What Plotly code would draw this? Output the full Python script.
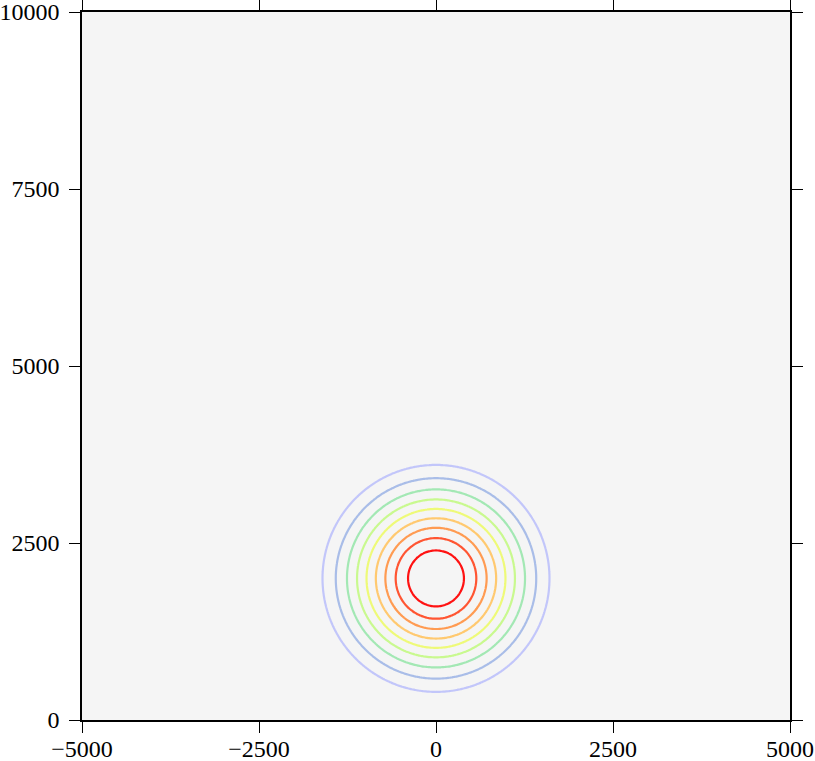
import numpy as np
import plotly.graph_objects as go

# Field parameters (single Gaussian bump)
center_x = 0.0
center_y = 2000.0
sigma = 917.0
amplitude = 1.152

# Contour levels
level_start = 0.25
level_end = 1.05
level_step = 0.1

# Line colours, outermost (lowest level) to innermost (highest)
line_colors = ["#c2c6fa", "#a9bde8", "#a3e8b4", "#c9f98f", "#eefa78",
               "#ffc970", "#ff9b52", "#ff5532", "#ff1212"]

x_ticks = [-5000, -2500, 0, 2500, 5000]
x_labels = ["\u22125000", "\u22122500", "0", "2500", "5000"]
y_ticks = [0, 2500, 5000, 7500, 10000]
y_labels = ["0", "2500", "5000", "7500", "10000"]

xs = np.linspace(-5000, 5000, 401)
ys = np.linspace(0, 10000, 401)
X, Y = np.meshgrid(xs, ys)
Z = amplitude * np.exp(-((X - center_x) ** 2 + (Y - center_y) ** 2) / (2 * sigma ** 2))

n = len(line_colors)
colorscale = [[i / (n - 1), c] for i, c in enumerate(line_colors)]

fig = go.Figure(go.Contour(
    x=xs, y=ys, z=Z,
    contours=dict(start=level_start, end=level_end, size=level_step, coloring="lines"),
    colorscale=colorscale, zmin=level_start, zmax=level_end,
    line=dict(width=2.2), showscale=False, hoverinfo="skip",
))

axis_common = dict(
    showgrid=False, zeroline=False, showline=True, linecolor="black", linewidth=1.5,
    mirror="ticks", ticks="outside", ticklen=11, tickwidth=1.2, tickcolor="black",
    automargin=False, ticklabeloverflow="allow",
    tickfont=dict(family="Liberation Serif", size=24, color="black"),
)
fig.update_xaxes(range=[-5000, 5000], tickvals=x_ticks, ticktext=x_labels,
                 ticklabelstandoff=-5, **axis_common)
fig.update_yaxes(range=[0, 10000], tickvals=y_ticks, ticktext=y_labels,
                 ticklabelstandoff=5, **axis_common)

fig.update_layout(
    width=815, height=761,
    margin=dict(l=82, r=25, t=12, b=41, autoexpand=False),
    plot_bgcolor="#f5f5f5", paper_bgcolor="white",
    font=dict(family="Liberation Serif", size=24, color="black"),
    showlegend=False,
)
fig.write_html("out.html")
